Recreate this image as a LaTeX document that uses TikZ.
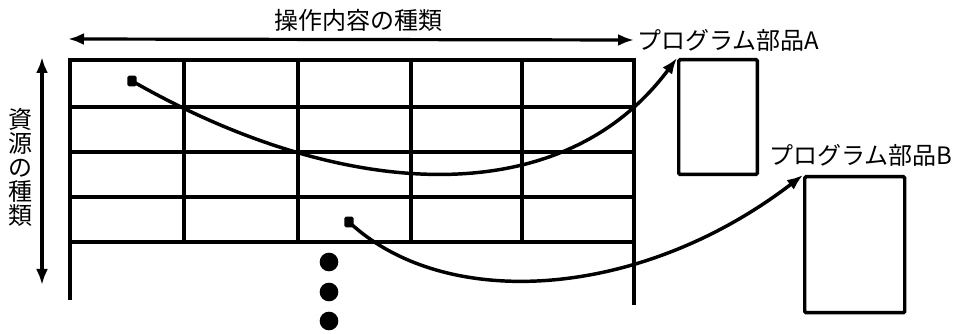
\documentclass[tikz,border=0pt]{standalone}
\usepackage{fontspec}
\newfontfamily\jp{Noto Sans CJK JP}
\usetikzlibrary{arrows.meta}
\begin{document}
\begin{tikzpicture}[x=0.75pt,y=-0.75pt,
  grid/.style={line width=2.8pt},
  thick line/.style={line width=3.3pt},
  conn/.style={line width=2.6pt,-{Latex[length=12pt,width=9pt]}},
  dbl/.style={line width=2.4pt,{Latex[length=12pt,width=9pt]}-{Latex[length=12pt,width=9pt]}},
  lbl/.style={font=\jp\fontsize{18}{18}\selectfont,inner sep=0pt},
  part/.style={draw,line width=2.6pt,rounded corners=1pt,inner sep=0pt},
  src/.style={fill,rounded corners=1.2pt,minimum width=7pt,minimum height=8pt,inner sep=0pt},
  dot/.style={circle,fill,minimum size=14pt,inner sep=0pt}]
\useasboundingbox (0,0) rectangle (960,334);
% axis arrows
\coordinate (hL) at (68,39);
\coordinate (hR) at (634,40);
\draw[dbl] (hL) -- (hR);
\node[lbl] (title) at (358,20) {操作内容の種類};
\coordinate (vT) at (42,57);
\coordinate (vB) at (42,285);
\draw[dbl] (vT) -- (vB);
\node[lbl,align=center] (vlabel) at (20,167) {資\\源\\の\\種\\類};
% grid
\draw[thick line] (70,300) -- (70,60) -- (634,60) -- (634,305);
\foreach \y in {107,152,197,242} \draw[grid] (70,\y) -- (634,\y);
\foreach \x in {184,298,411,522} \draw[grid] (\x,60) -- (\x,242);
% program parts
\node[part,minimum width=59pt,minimum height=86pt,anchor=north west] (boxA) at (677,58) {};
\node[part,minimum width=75pt,minimum height=102pt,anchor=north west] (boxB) at (803,175) {};
\node[lbl,anchor=west] (labA) at (637,40) {プログラム部品A};
\node[lbl,anchor=west] (labB) at (769,155) {プログラム部品B};
% sources
\node[src] (sA) at (132,81) {};
\node[src] (sB) at (349,222) {};
\draw[conn] (sA.center) .. controls (340,200) and (560,215) .. (boxA.north west);
\draw[conn] (sB.center) .. controls (445,312) and (640,300) .. (boxB.north west);
% dots
\node[dot] (d1) at (329,262) {};
\node[dot] (d2) at (329,292) {};
\node[dot] (d3) at (329,321) {};
\end{tikzpicture}
\end{document}
